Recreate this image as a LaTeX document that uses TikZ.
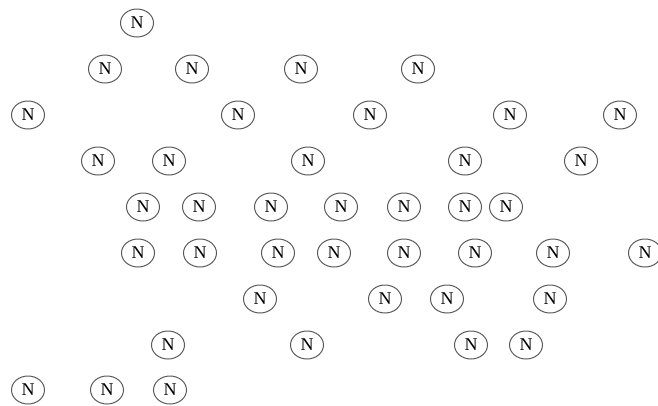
\documentclass[tikz,border=0pt]{standalone}
\usepackage{fontspec}
\setmainfont{Liberation Serif}
\usetikzlibrary{shapes.geometric}
\begin{document}
\begin{tikzpicture}[x=1pt,y=-1pt,
  nn/.style={ellipse,draw=black!65,line width=1pt,minimum width=33pt,minimum height=28pt,inner sep=0pt,font=\fontsize{18}{18}\selectfont}]
\useasboundingbox (0,0) rectangle (658,405);
\clip (0,0) rectangle (658,405);
% row 1
\node[nn] (a1) at (137,23) {N};
% row 2
\node[nn] (b1) at (105,69) {N};
\node[nn] (b2) at (192,69) {N};
\node[nn] (b3) at (301,69) {N};
\node[nn] (b4) at (418,69) {N};
% row 3
\node[nn] (c1) at (28,115) {N};
\node[nn] (c2) at (238,115) {N};
\node[nn] (c3) at (370,115) {N};
\node[nn] (c4) at (510,115) {N};
\node[nn] (c5) at (620,115) {N};
% row 4
\node[nn] (d1) at (98,161) {N};
\node[nn] (d2) at (169,161) {N};
\node[nn] (d3) at (308,161) {N};
\node[nn] (d4) at (465,161) {N};
\node[nn] (d5) at (581,161) {N};
% row 5
\node[nn] (e1) at (143,207) {N};
\node[nn] (e2) at (199,207) {N};
\node[nn] (e3) at (271,207) {N};
\node[nn] (e4) at (341,207) {N};
\node[nn] (e5) at (404,207) {N};
\node[nn] (e6) at (465,207) {N};
\node[nn] (e7) at (506,207) {N};
% row 6
\node[nn] (f1) at (138,253) {N};
\node[nn] (f2) at (200,253) {N};
\node[nn] (f3) at (278,253) {N};
\node[nn] (f4) at (334,253) {N};
\node[nn] (f5) at (404,253) {N};
\node[nn] (f6) at (475,253) {N};
\node[nn] (f7) at (553,253) {N};
\node[nn] (f8) at (645,253) {N};
% row 7
\node[nn] (g1) at (260,299) {N};
\node[nn] (g2) at (385,299) {N};
\node[nn] (g3) at (447,299) {N};
\node[nn] (g4) at (550,299) {N};
% row 8
\node[nn] (h1) at (168,345) {N};
\node[nn] (h2) at (307,345) {N};
\node[nn] (h3) at (471,345) {N};
\node[nn] (h4) at (526,345) {N};
% row 9
\node[nn] (i1) at (28,390) {N};
\node[nn] (i2) at (107,390) {N};
\node[nn] (i3) at (170,390) {N};
\end{tikzpicture}
\end{document}
